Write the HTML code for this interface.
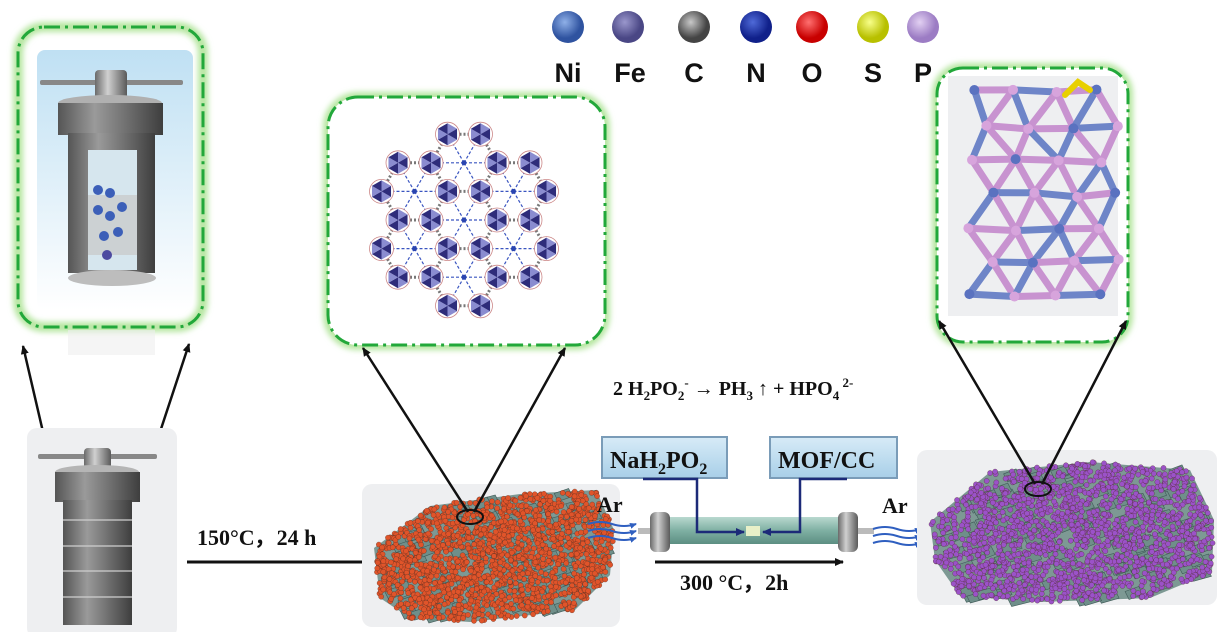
<!DOCTYPE html>
<html><head><meta charset="utf-8">
<style>
html,body{margin:0;padding:0;background:#fff;}
svg{display:block;}
.ser{font-family:"Liberation Serif",serif;font-weight:bold;fill:#111;}
.san{font-family:"Liberation Sans",sans-serif;font-weight:bold;fill:#111;}
</style></head>
<body>
<svg id="s" width="1219" height="632" viewBox="0 0 1219 632" xmlns="http://www.w3.org/2000/svg">
<defs>
<linearGradient id="metal" x1="0" x2="1" y1="0" y2="0">
<stop offset="0" stop-color="#555"/><stop offset="0.35" stop-color="#9a9a9a"/><stop offset="0.6" stop-color="#777"/><stop offset="1" stop-color="#3e3e3e"/></linearGradient>
<linearGradient id="metal2" x1="0" x2="1"><stop offset="0" stop-color="#6a6a6a"/><stop offset="0.4" stop-color="#d0d0d0"/><stop offset="1" stop-color="#5a5a5a"/></linearGradient>
<linearGradient id="skyb" x1="0" x2="0" y1="0" y2="1"><stop offset="0" stop-color="#bfe0f3"/><stop offset="1" stop-color="#ffffff"/></linearGradient>
<linearGradient id="tube" x1="0" x2="0" y1="0" y2="1"><stop offset="0" stop-color="#b9d8cf"/><stop offset="0.5" stop-color="#7fb0a3"/><stop offset="1" stop-color="#5c8e82"/></linearGradient>
<linearGradient id="boxg" x1="0" x2="0" y1="0" y2="1"><stop offset="0" stop-color="#d7ebf7"/><stop offset="1" stop-color="#a8cfe8"/></linearGradient>
<radialGradient id="gNi" cx="0.4" cy="0.35"><stop offset="0" stop-color="#8fb0e8"/><stop offset="1" stop-color="#2f53a0"/></radialGradient>
<radialGradient id="gFe" cx="0.4" cy="0.35"><stop offset="0" stop-color="#9a97cc"/><stop offset="1" stop-color="#4a4785"/></radialGradient>
<radialGradient id="gC" cx="0.4" cy="0.35"><stop offset="0" stop-color="#c8c8c8"/><stop offset="1" stop-color="#444"/></radialGradient>
<radialGradient id="gN" cx="0.4" cy="0.35"><stop offset="0" stop-color="#4f6ad8"/><stop offset="1" stop-color="#10208a"/></radialGradient>
<radialGradient id="gO" cx="0.4" cy="0.35"><stop offset="0" stop-color="#ff7070"/><stop offset="1" stop-color="#c80000"/></radialGradient>
<radialGradient id="gS" cx="0.4" cy="0.35"><stop offset="0" stop-color="#f8ff8a"/><stop offset="1" stop-color="#b8c000"/></radialGradient>
<radialGradient id="gP" cx="0.4" cy="0.35"><stop offset="0" stop-color="#e2d0f2"/><stop offset="1" stop-color="#9c7cc4"/></radialGradient>
<filter id="glow" x="-10%" y="-10%" width="120%" height="120%"><feGaussianBlur stdDeviation="3"/></filter>
<marker id="ar" markerWidth="10" markerHeight="10" refX="8" refY="5" orient="auto" markerUnits="userSpaceOnUse"><path d="M0,1 L9,5 L0,9 Z" fill="#111"/></marker>
<marker id="arb" markerWidth="10" markerHeight="10" refX="8" refY="5" orient="auto" markerUnits="userSpaceOnUse"><path d="M0,1 L9,5 L0,9 Z" fill="#1c2a78"/></marker>
<marker id="arw" markerWidth="8" markerHeight="8" refX="6" refY="4" orient="auto" markerUnits="userSpaceOnUse"><path d="M0,1 L7,4 L0,7 Z" fill="#2f5fc0"/></marker>
</defs>

<circle cx="568" cy="27" r="16" fill="url(#gNi)"/>
<circle cx="628" cy="27" r="16" fill="url(#gFe)"/>
<circle cx="694" cy="27" r="16" fill="url(#gC)"/>
<circle cx="756" cy="27" r="16" fill="url(#gN)"/>
<circle cx="812" cy="27" r="16" fill="url(#gO)"/>
<circle cx="873" cy="27" r="16" fill="url(#gS)"/>
<circle cx="923" cy="27" r="16" fill="url(#gP)"/>
<g class="san" font-size="27" text-anchor="middle">
<text x="568" y="82">Ni</text><text x="630" y="82">Fe</text><text x="694" y="82">C</text><text x="756" y="82">N</text><text x="812" y="82">O</text><text x="873" y="82">S</text><text x="923" y="82">P</text>
</g>

<rect x="18" y="27" width="185" height="300" rx="26" fill="none" stroke="#b6e6a0" stroke-width="10" filter="url(#glow)"/>
<rect x="37" y="50" width="156" height="260" rx="8" fill="url(#skyb)"/>
<rect x="18" y="27" width="185" height="300" rx="26" fill="none" stroke="#22a83a" stroke-width="3" stroke-dasharray="16,5,3,5"/>
<rect x="68" y="330" width="87" height="25" fill="#eeeeee" opacity="0.6"/>
<rect x="40" y="80" width="143" height="5" rx="2" fill="#888"/>
<rect x="95" y="70" width="32" height="30" rx="4" fill="url(#metal2)"/>
<ellipse cx="110" cy="103" rx="52" ry="8" fill="#b0b0b0"/>
<rect x="58" y="103" width="105" height="32" fill="url(#metal)"/>
<rect x="68" y="133" width="87" height="140" fill="url(#metal)"/>
<rect x="88" y="150" width="49" height="120" fill="#d6e6ee"/>
<rect x="88" y="195" width="49" height="60" fill="#c8c8c8" opacity="0.7"/>
<ellipse cx="112" cy="278" rx="44" ry="8" fill="#bdbdbd"/>
<g id="tballs"></g>

<line x1="43" y1="432" x2="23" y2="346" stroke="#111" stroke-width="2.5" marker-end="url(#ar)"/>
<line x1="160" y1="432" x2="189" y2="344" stroke="#111" stroke-width="2.5" marker-end="url(#ar)"/>

<rect x="27" y="428" width="150" height="210" rx="10" fill="#eeeff1"/>
<rect x="38" y="454" width="119" height="5" rx="2" fill="#888"/>
<rect x="84" y="448" width="27" height="22" rx="4" fill="url(#metal2)"/>
<ellipse cx="97" cy="472" rx="42" ry="7" fill="#b5b5b5"/>
<rect x="55" y="472" width="85" height="30" fill="url(#metal)"/>
<rect x="63" y="500" width="69" height="125" fill="url(#metal)"/>
<g stroke="#cfcfcf" stroke-width="1.2"><line x1="63" y1="520" x2="132" y2="520"/><line x1="63" y1="546" x2="132" y2="546"/><line x1="63" y1="571" x2="132" y2="571"/><line x1="63" y1="597" x2="132" y2="597"/></g>

<text class="ser" x="197" y="545" font-size="22">150°C，24 h</text>
<line x1="187" y1="562" x2="372" y2="562" stroke="#111" stroke-width="3" marker-end="url(#ar)"/>

<rect x="328" y="97" width="277" height="248" rx="30" fill="none" stroke="#b6e6a0" stroke-width="10" filter="url(#glow)"/>
<rect x="328" y="97" width="277" height="248" rx="30" fill="#fff" stroke="#22a83a" stroke-width="3" stroke-dasharray="16,5,3,5"/>
<g id="mof"></g>

<rect x="362" y="484" width="258" height="143" rx="10" fill="#eeeff1"/>
<g id="mat1"></g>
<ellipse cx="470" cy="517" rx="13" ry="7" fill="none" stroke="#111" stroke-width="2"/>
<line x1="468" y1="512" x2="363" y2="348" stroke="#111" stroke-width="2.5" marker-end="url(#ar)"/>
<line x1="474" y1="512" x2="565" y2="348" stroke="#111" stroke-width="2.5" marker-end="url(#ar)"/>

<text class="ser" x="613" y="395" font-size="20">2 H<tspan font-size="13" dy="5">2</tspan><tspan dy="-5">PO</tspan><tspan font-size="13" dy="5">2</tspan><tspan font-size="13" dy="-13">-</tspan><tspan dy="8"> → PH</tspan><tspan font-size="13" dy="5">3</tspan><tspan dy="-5"> ↑ + HPO</tspan><tspan font-size="13" dy="5">4</tspan><tspan font-size="13" dy="-13"> 2-</tspan></text>

<rect x="602" y="437" width="125" height="41" fill="url(#boxg)" stroke="#7a9cb8" stroke-width="2"/>
<text class="ser" x="610" y="468" font-size="24">NaH<tspan font-size="16" dy="6">2</tspan><tspan dy="-6">PO</tspan><tspan font-size="16" dy="6">2</tspan></text>
<rect x="770" y="437" width="127" height="41" fill="url(#boxg)" stroke="#7a9cb8" stroke-width="2"/>
<text class="ser" x="778" y="468" font-size="24">MOF/CC</text>

<text class="ser" x="597" y="512" font-size="22">Ar</text>
<g fill="none" stroke="#2f5fc0" stroke-width="2">
<path d="M588,524 q12,-4 24,0 t24,0" marker-end="url(#arw)"/>
<path d="M588,531 q12,-4 24,0 t24,0" marker-end="url(#arw)"/>
<path d="M588,538 q12,-4 24,0 t24,0" marker-end="url(#arw)"/>
</g>
<rect x="638" y="528" width="236" height="6" fill="#bbb"/>
<rect x="668" y="517" width="174" height="27" fill="url(#tube)"/>
<rect x="650" y="512" width="20" height="40" rx="6" fill="url(#metal2)"/>
<rect x="838" y="512" width="20" height="40" rx="6" fill="url(#metal2)"/>
<rect x="746" y="526" width="14" height="10" fill="#e8f0c8"/>
<polyline points="643,479 697,479 697,532 744,532" fill="none" stroke="#1c2a78" stroke-width="2.5" marker-end="url(#arb)"/>
<polyline points="847,479 800,479 800,532 763,532" fill="none" stroke="#1c2a78" stroke-width="2.5" marker-end="url(#arb)"/>
<line x1="655" y1="562" x2="843" y2="562" stroke="#111" stroke-width="3" marker-end="url(#ar)"/>
<text class="ser" x="680" y="590" font-size="22">300 °C，2h</text>

<text class="ser" x="882" y="513" font-size="22">Ar</text>
<g fill="none" stroke="#2f5fc0" stroke-width="2">
<path d="M873,529 q12,-4 24,0 t24,0" marker-end="url(#arw)"/>
<path d="M873,536 q12,-4 24,0 t24,0" marker-end="url(#arw)"/>
<path d="M873,543 q12,-4 24,0 t24,0" marker-end="url(#arw)"/>
</g>

<rect x="937" y="68" width="191" height="274" rx="26" fill="none" stroke="#b6e6a0" stroke-width="10" filter="url(#glow)"/>
<rect x="937" y="68" width="191" height="274" rx="26" fill="#fff" stroke="#22a83a" stroke-width="3" stroke-dasharray="16,5,3,5"/>
<rect x="948" y="76" width="170" height="240" fill="#eeeff1"/>
<g id="cry"></g>

<rect x="917" y="450" width="300" height="155" rx="10" fill="#eeeff1"/>
<g id="mat2"></g>
<ellipse cx="1038" cy="489" rx="13" ry="7" fill="none" stroke="#111" stroke-width="2"/>
<line x1="1035" y1="484" x2="939" y2="321" stroke="#111" stroke-width="2.5" marker-end="url(#ar)"/>
<line x1="1042" y1="484" x2="1126" y2="321" stroke="#111" stroke-width="2.5" marker-end="url(#ar)"/>
</svg>
<script>
(function(){
var NS="http://www.w3.org/2000/svg";
var seed=7;function r(){seed=(seed*16807)%2147483647;return (seed-1)/2147483646;}
function el(p,t,a){var e=document.createElementNS(NS,t);for(var k in a)e.setAttribute(k,a[k]);p.appendChild(e);return e;}
var tb=document.getElementById('tballs');
[[98,190],[110,193],[98,210],[122,207],[110,216],[104,236],[118,232],[107,255]].forEach(function(p){el(tb,'circle',{cx:p[0],cy:p[1],r:5,fill:p[0]%2?'#4d4aa0':'#3c5fb8'});});
// MOF
var g=document.getElementById('mof');var cx=464,cy=220;
var pts=[];
for(var i=-6;i<=6;i++)for(var j=-6;j<=6;j++){var x=cx+i*33+j*16.5,y=cy+j*28.6;var d=Math.hypot(x-cx,y-cy);if(d<112&&((i-j)%3+3)%3!=0)pts.push([x,y]);}
for(var a=0;a<pts.length;a++)for(var b=a+1;b<pts.length;b++){var d=Math.hypot(pts[a][0]-pts[b][0],pts[a][1]-pts[b][1]);if(d<34){el(g,'line',{x1:pts[a][0],y1:pts[a][1],x2:pts[b][0],y2:pts[b][1],stroke:'#777','stroke-width':3,'stroke-dasharray':'2,2'});}}
for(var i=-6;i<=6;i++)for(var j=-6;j<=6;j++){var x=cx+i*33+j*16.5,y=cy+j*28.6;if(Math.hypot(x-cx,y-cy)<80&&((i-j)%3+3)%3==0){for(var k=0;k<6;k++){var an=k*Math.PI/3;el(g,'line',{x1:x,y1:y,x2:x+30*Math.cos(an),y2:y+30*Math.sin(an),stroke:'#3a55c0','stroke-width':1.2,'stroke-dasharray':'3,2'});}el(g,'circle',{cx:x,cy:y,r:2.5,fill:'#2a45b0'});}}
pts.forEach(function(p){el(g,'circle',{cx:p[0],cy:p[1],r:12,fill:'#fff',stroke:'#c88','stroke-width':0.8});
for(var k=0;k<6;k++){var a1=k*Math.PI/3+Math.PI/6,a2=a1+Math.PI/3;el(g,'path',{d:'M'+p[0]+','+p[1]+'L'+(p[0]+11*Math.cos(a1))+','+(p[1]+11*Math.sin(a1))+'L'+(p[0]+11*Math.cos(a2))+','+(p[1]+11*Math.sin(a2))+'Z',fill:k%2?'#2e2c7a':'#8a8cd0'});}});
// materials
function pip(poly,x,y){var c=false;for(var i=0,j=poly.length-1;i<poly.length;j=i++){var xi=poly[i][0],yi=poly[i][1],xj=poly[j][0],yj=poly[j][1];if(((yi>y)!=(yj>y))&&(x<(xj-xi)*(y-yi)/(yj-yi)+xi))c=!c;}return c;}
function mat(id,poly,col){var m=document.getElementById(id);
var xs=poly.map(function(p){return p[0]}),ys=poly.map(function(p){return p[1]});
var x0=Math.min.apply(0,xs),x1=Math.max.apply(0,xs),y0=Math.min.apply(0,ys),y1=Math.max.apply(0,ys);
el(m,'polygon',{points:poly.map(function(p){return p.join(',')}).join(' '),fill:'#7d9994'});
for(var n=0;n<200;n++){var x=x0+r()*(x1-x0),y=y0+r()*(y1-y0);if(!pip(poly,x,y)||!pip(poly,x+18,y))continue;var L=12+r()*8;el(m,'polygon',{points:x+','+y+' '+(x+L)+','+(y-5)+' '+(x+L+4)+','+(y+3)+' '+(x+4)+','+(y+8),fill:'#6f8f8a',stroke:'#3f5a57','stroke-width':0.6});}
for(var n=0;n<3000;n++){var x=x0+r()*(x1-x0),y=y0+r()*(y1-y0);if(!pip(poly,x,y)||r()<0.3)continue;el(m,'circle',{cx:x,cy:y,r:2.6,fill:col,stroke:'#4a2a20','stroke-width':0.3});}}
mat('mat1',[[374,548],[430,506],[520,494],[596,490],[614,530],[610,575],[575,610],[470,622],[410,618],[380,598]],'#e0542a');
mat('mat2',[[930,522],[990,472],[1090,462],[1190,470],[1214,520],[1212,572],[1150,598],[1040,602],[960,596],[935,560]],'#9b52c8');
// crystal
var c=document.getElementById('cry');
var nodes=[];for(var yy=0;yy<7;yy++)for(var xx=0;xx<4;xx++){nodes.push([972+xx*42+(yy%2)*18+(r()-0.5)*8,92+yy*34+(r()-0.5)*6]);}
for(var a=0;a<nodes.length;a++)for(var b=a+1;b<nodes.length;b++){var d=Math.hypot(nodes[a][0]-nodes[b][0],nodes[a][1]-nodes[b][1]);if(d<50){el(c,'line',{x1:nodes[a][0],y1:nodes[a][1],x2:nodes[b][0],y2:nodes[b][1],stroke:r()<0.55?'#c893d0':'#6e85c8','stroke-width':7,'stroke-linecap':'round'});}}
nodes.forEach(function(p,i){el(c,'circle',{cx:p[0],cy:p[1],r:5,fill:i%3?'#d7a4dc':'#5a72c0'});});
el(c,'path',{d:'M1065,95 L1078,82 L1090,90',stroke:'#e8d000','stroke-width':6,fill:'none','stroke-linecap':'round'});
})();
</script>
</body></html>
